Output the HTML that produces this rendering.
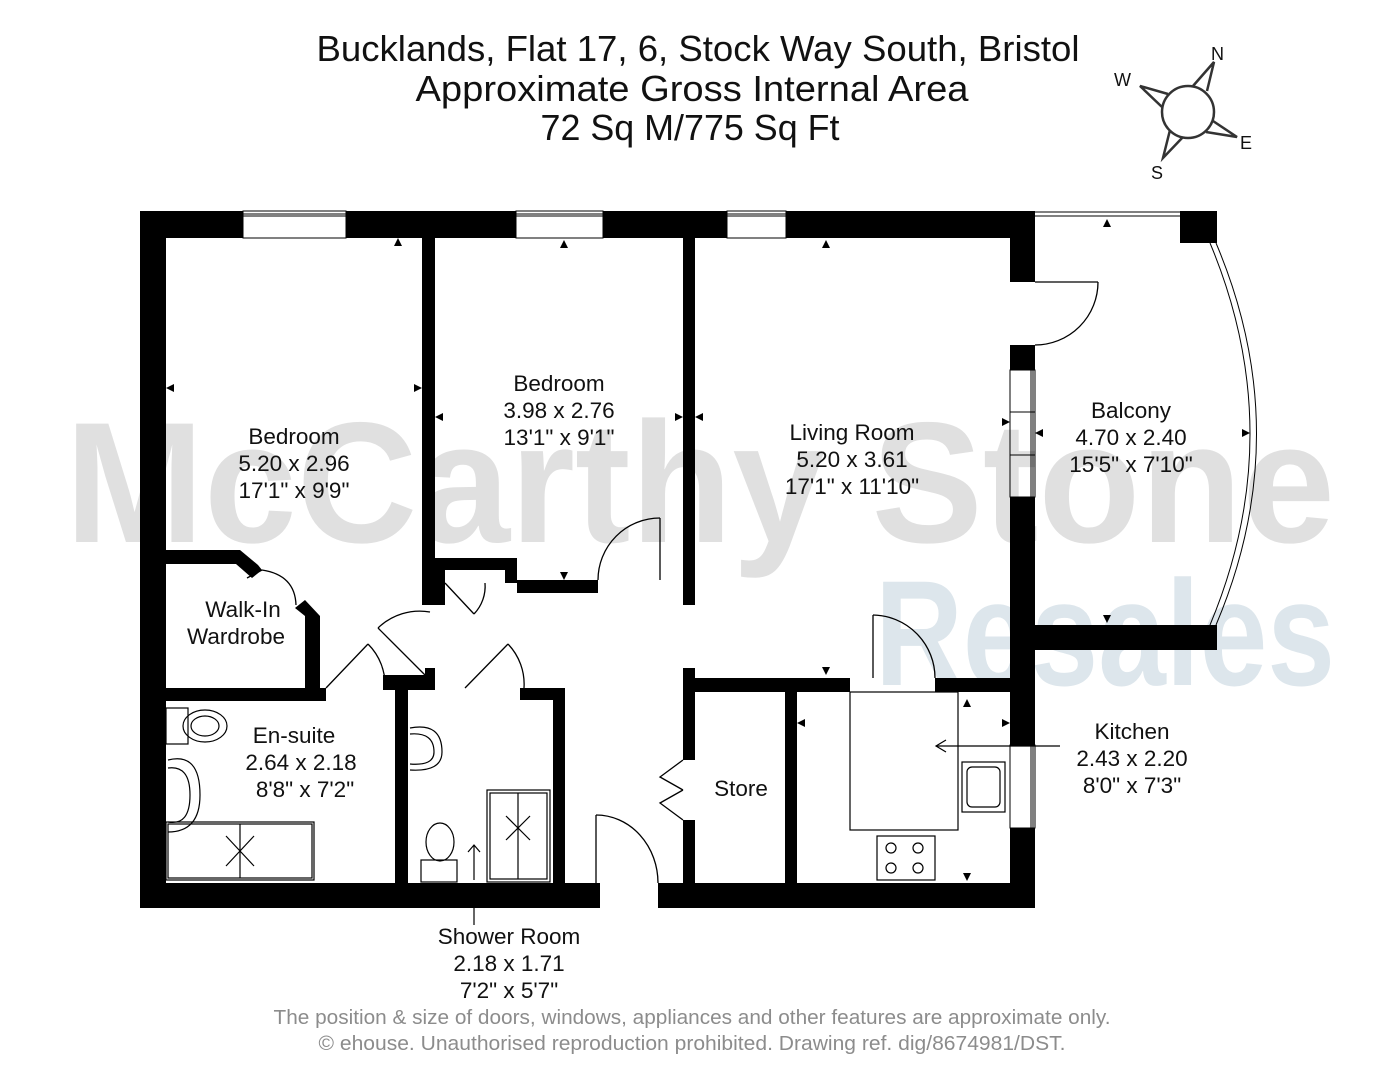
<!DOCTYPE html>
<html><head><meta charset="utf-8"><style>
html,body{margin:0;padding:0;background:#fff;}
svg{display:block;}
text{font-family:"Liberation Sans",sans-serif;}
</style></head><body>
<svg width="1398" height="1080" viewBox="0 0 1398 1080" xmlns="http://www.w3.org/2000/svg">
<!-- watermark -->
<text x="700" y="542" text-anchor="middle" font-size="172" font-weight="bold" fill="#e0e0e0" textLength="1270" lengthAdjust="spacingAndGlyphs">McCarthy Stone</text>
<text x="1105" y="685" text-anchor="middle" font-size="150" font-weight="bold" fill="#dde6ec" textLength="460" lengthAdjust="spacingAndGlyphs">Resales</text>

<!-- title -->
<g font-size="36" text-anchor="middle" fill="#111">
<text x="698" y="61" textLength="763" lengthAdjust="spacingAndGlyphs">Bucklands, Flat 17, 6, Stock Way South, Bristol</text>
<text x="692" y="101" textLength="553" lengthAdjust="spacingAndGlyphs">Approximate Gross Internal Area</text>
<text x="690" y="140" textLength="299" lengthAdjust="spacingAndGlyphs">72 Sq M/775 Sq Ft</text>
</g>

<!-- compass -->
<g fill="none" stroke="#333" stroke-width="2.5">
<circle cx="1188" cy="112" r="26"/>
<polyline points="1193,86 1214,62 1207,91"/>
<polyline points="1168,94 1140,86 1162,107"/>
<polyline points="1213,121 1237,137 1206,132"/>
<polyline points="1170,130 1163,158 1183,137"/>
</g>
<g font-size="18" fill="#111">
<text x="1211" y="60">N</text><text x="1114" y="86">W</text><text x="1240" y="149">E</text><text x="1151" y="179">S</text>
</g>

<!-- walls -->
<g fill="#000">
<rect x="140" y="211" width="103" height="27"/>
<rect x="346" y="211" width="170" height="27"/>
<rect x="603" y="211" width="124" height="27"/>
<rect x="786" y="211" width="249" height="27"/>
<rect x="140" y="211" width="26" height="697"/>
<rect x="140" y="883" width="460" height="25"/>
<rect x="658" y="883" width="377" height="25"/>
<rect x="1010" y="211" width="25" height="71"/>
<rect x="1010" y="345" width="25" height="25"/>
<rect x="1010" y="497" width="25" height="248"/>
<rect x="1010" y="828" width="25" height="80"/>
<rect x="1180" y="211" width="37" height="32"/>
<rect x="1035" y="625" width="182" height="25"/>
<rect x="422" y="238" width="13" height="367"/>
<rect x="683" y="238" width="12" height="367"/>
<rect x="505" y="558" width="12" height="25"/>
<rect x="433" y="558" width="84" height="12"/>
<rect x="433" y="570" width="12" height="35"/>
<rect x="517" y="580" width="81" height="13"/>
<polygon points="166,550 240,550 258,565 262,570 252,578 236,564 166,564"/>
<polygon points="295,608 305,600 320,616 320,692 305,692 305,616"/>
<rect x="166" y="688" width="160" height="13"/>
<rect x="383" y="675" width="52" height="15"/>
<rect x="425" y="668" width="10" height="10"/>
<rect x="395" y="690" width="13" height="193"/>
<rect x="520" y="688" width="45" height="12"/>
<rect x="553" y="688" width="12" height="195"/>
<rect x="683" y="668" width="12" height="92"/>
<rect x="683" y="820" width="12" height="63"/>
<rect x="683" y="678" width="167" height="14"/>
<rect x="935" y="678" width="75" height="14"/>
<rect x="785" y="692" width="12" height="191"/>
</g>

<!-- windows -->
<g fill="none" stroke="#000" stroke-width="1">
<rect x="243" y="211" width="103" height="27"/><line x1="243" y1="214" x2="346" y2="214"/><line x1="243" y1="216" x2="346" y2="216"/>
<rect x="516" y="211" width="87" height="27"/><line x1="516" y1="214" x2="603" y2="214"/><line x1="516" y1="216" x2="603" y2="216"/>
<rect x="727" y="211" width="59" height="27"/><line x1="727" y1="214" x2="786" y2="214"/><line x1="727" y1="216" x2="786" y2="216"/>
<rect x="1010" y="370" width="25" height="127"/><line x1="1031" y1="370" x2="1031" y2="497"/><line x1="1033" y1="370" x2="1033" y2="497"/>
<line x1="1010" y1="412" x2="1035" y2="412"/><line x1="1010" y1="455" x2="1035" y2="455"/>
<rect x="1010" y="745" width="25" height="83"/><line x1="1031" y1="745" x2="1031" y2="828"/><line x1="1033" y1="745" x2="1033" y2="828"/>
<line x1="1035" y1="212" x2="1180" y2="212"/>
<line x1="1035" y1="216" x2="1180" y2="216"/>
<path d="M1210,243 Q1290,434 1210,625"/>
<path d="M1216,243 Q1297,434 1216,625"/>
</g>

<!-- doors -->
<g fill="none" stroke="#000" stroke-width="1.3">
<line x1="1035" y1="282" x2="1098" y2="282"/><path d="M1098,282 A63,63 0 0 1 1035,345"/>
<line x1="660" y1="518" x2="660" y2="580"/><path d="M660,518 A62,62 0 0 0 598,580"/>
<line x1="445" y1="583" x2="474" y2="614"/><path d="M474,614 A40,40 0 0 0 485,583"/>
<line x1="425" y1="675" x2="378" y2="628"/><path d="M378,628 A60,60 0 0 1 430,612"/>
<line x1="326" y1="688" x2="368" y2="644"/><path d="M368,644 A58,58 0 0 1 385,688"/>
<line x1="465" y1="688" x2="508" y2="644"/><path d="M508,644 A58,58 0 0 1 524,688"/>
<line x1="247" y1="578" x2="262" y2="570"/><path d="M262,570 Q295,575 296,605"/>
<line x1="873" y1="615" x2="873" y2="678"/><path d="M873,615 A63,63 0 0 1 935,678"/>
<line x1="596" y1="815" x2="596" y2="883"/><path d="M596,815 A62,68 0 0 1 658,883"/>
<polyline points="683,760 660,777 683,790"/><polyline points="683,820 660,803 683,790"/>
</g>

<!-- fixtures -->
<g fill="none" stroke="#000" stroke-width="1.2">
<rect x="166" y="822" width="148" height="58"/><rect x="168" y="824" width="144" height="54"/>
<line x1="240" y1="824" x2="240" y2="878"/><line x1="226" y1="836" x2="254" y2="866"/><line x1="254" y1="836" x2="226" y2="866"/>
<rect x="166" y="708" width="22" height="36"/><ellipse cx="205" cy="726" rx="22" ry="16"/><ellipse cx="205" cy="726" rx="14" ry="10"/>
<path d="M168,760 Q200,752 200,795 Q200,832 168,832"/><path d="M168,768 Q190,765 190,795 Q190,826 168,822"/>
<path d="M410,728 Q442,722 442,752 Q442,772 410,770"/><path d="M410,734 Q434,732 434,752 Q434,766 410,764"/>
<ellipse cx="440" cy="842" rx="14" ry="19"/><rect x="421" y="860" width="36" height="22"/>
<rect x="487" y="790" width="63" height="92"/><rect x="490" y="793" width="57" height="86"/>
<line x1="518" y1="793" x2="518" y2="879"/><line x1="506" y1="816" x2="530" y2="840"/><line x1="530" y1="816" x2="506" y2="840"/>
<line x1="474" y1="880" x2="474" y2="845"/><polyline points="468,852 474,845 480,852"/>
<line x1="474" y1="908" x2="474" y2="925"/>
<rect x="850" y="692" width="108" height="138"/>
<rect x="962" y="762" width="43" height="50"/><rect x="967" y="767" width="33" height="40" rx="5"/>
<rect x="877" y="836" width="58" height="44"/>
<circle cx="891" cy="848" r="5"/><circle cx="918" cy="848" r="5"/><circle cx="891" cy="868" r="5"/><circle cx="918" cy="868" r="5"/>
<line x1="1060" y1="746" x2="936" y2="746"/><polyline points="946,740 936,746 946,752"/>
</g>

<!-- arrow markers -->
<g fill="#000">
<polygon points="394,246 402,246 398,238"/>
<polygon points="560,248 568,248 564,240"/>
<polygon points="822,248 830,248 826,240"/>
<polygon points="1103,227 1111,227 1107,219"/>
<polygon points="166,388 174,384 174,392"/>
<polygon points="422,388 414,384 414,392"/>
<polygon points="435,417 443,413 443,421"/>
<polygon points="683,417 675,413 675,421"/>
<polygon points="695,417 703,413 703,421"/>
<polygon points="1010,422 1002,418 1002,426"/>
<polygon points="1035,433 1043,429 1043,437"/>
<polygon points="1250,433 1242,429 1242,437"/>
<polygon points="560,572 568,572 564,580"/>
<polygon points="1103,615 1111,615 1107,623"/>
<polygon points="822,667 830,667 826,675"/>
<polygon points="394,678 402,678 398,686"/>
<polygon points="797,723 805,719 805,727"/>
<polygon points="1010,723 1002,719 1002,727"/>
<polygon points="963,707 971,707 967,699"/>
<polygon points="963,873 971,873 967,881"/>
</g>

<!-- labels -->
<g font-size="22.5" text-anchor="middle" fill="#111">
<text x="294" y="444">Bedroom</text><text x="294" y="471">5.20 x 2.96</text><text x="294" y="498">17'1" x 9'9"</text>
<text x="559" y="391">Bedroom</text><text x="559" y="418">3.98 x 2.76</text><text x="559" y="445">13'1" x 9'1"</text>
<text x="852" y="440">Living Room</text><text x="852" y="467">5.20 x 3.61</text><text x="852" y="494">17'1" x 11'10"</text>
<text x="1131" y="418">Balcony</text><text x="1131" y="445">4.70 x 2.40</text><text x="1131" y="472">15'5" x 7'10"</text>
<text x="243" y="617">Walk-In</text><text x="236" y="644">Wardrobe</text>
<text x="294" y="743">En-suite</text><text x="301" y="770">2.64 x 2.18</text><text x="305" y="797">8'8" x 7'2"</text>
<text x="741" y="796">Store</text>
<text x="1132" y="739">Kitchen</text><text x="1132" y="766">2.43 x 2.20</text><text x="1132" y="793">8'0" x 7'3"</text>
<text x="509" y="944">Shower Room</text><text x="509" y="971">2.18 x 1.71</text><text x="509" y="998">7'2" x 5'7"</text>
</g>
<g font-size="20" text-anchor="middle" fill="#8c8c8c">
<text x="692" y="1024" textLength="837" lengthAdjust="spacingAndGlyphs">The position &amp; size of doors, windows, appliances and other features are approximate only.</text>
<text x="692" y="1050" textLength="747" lengthAdjust="spacingAndGlyphs">© ehouse. Unauthorised reproduction prohibited. Drawing ref. dig/8674981/DST.</text>
</g>
</svg>
</body></html>
